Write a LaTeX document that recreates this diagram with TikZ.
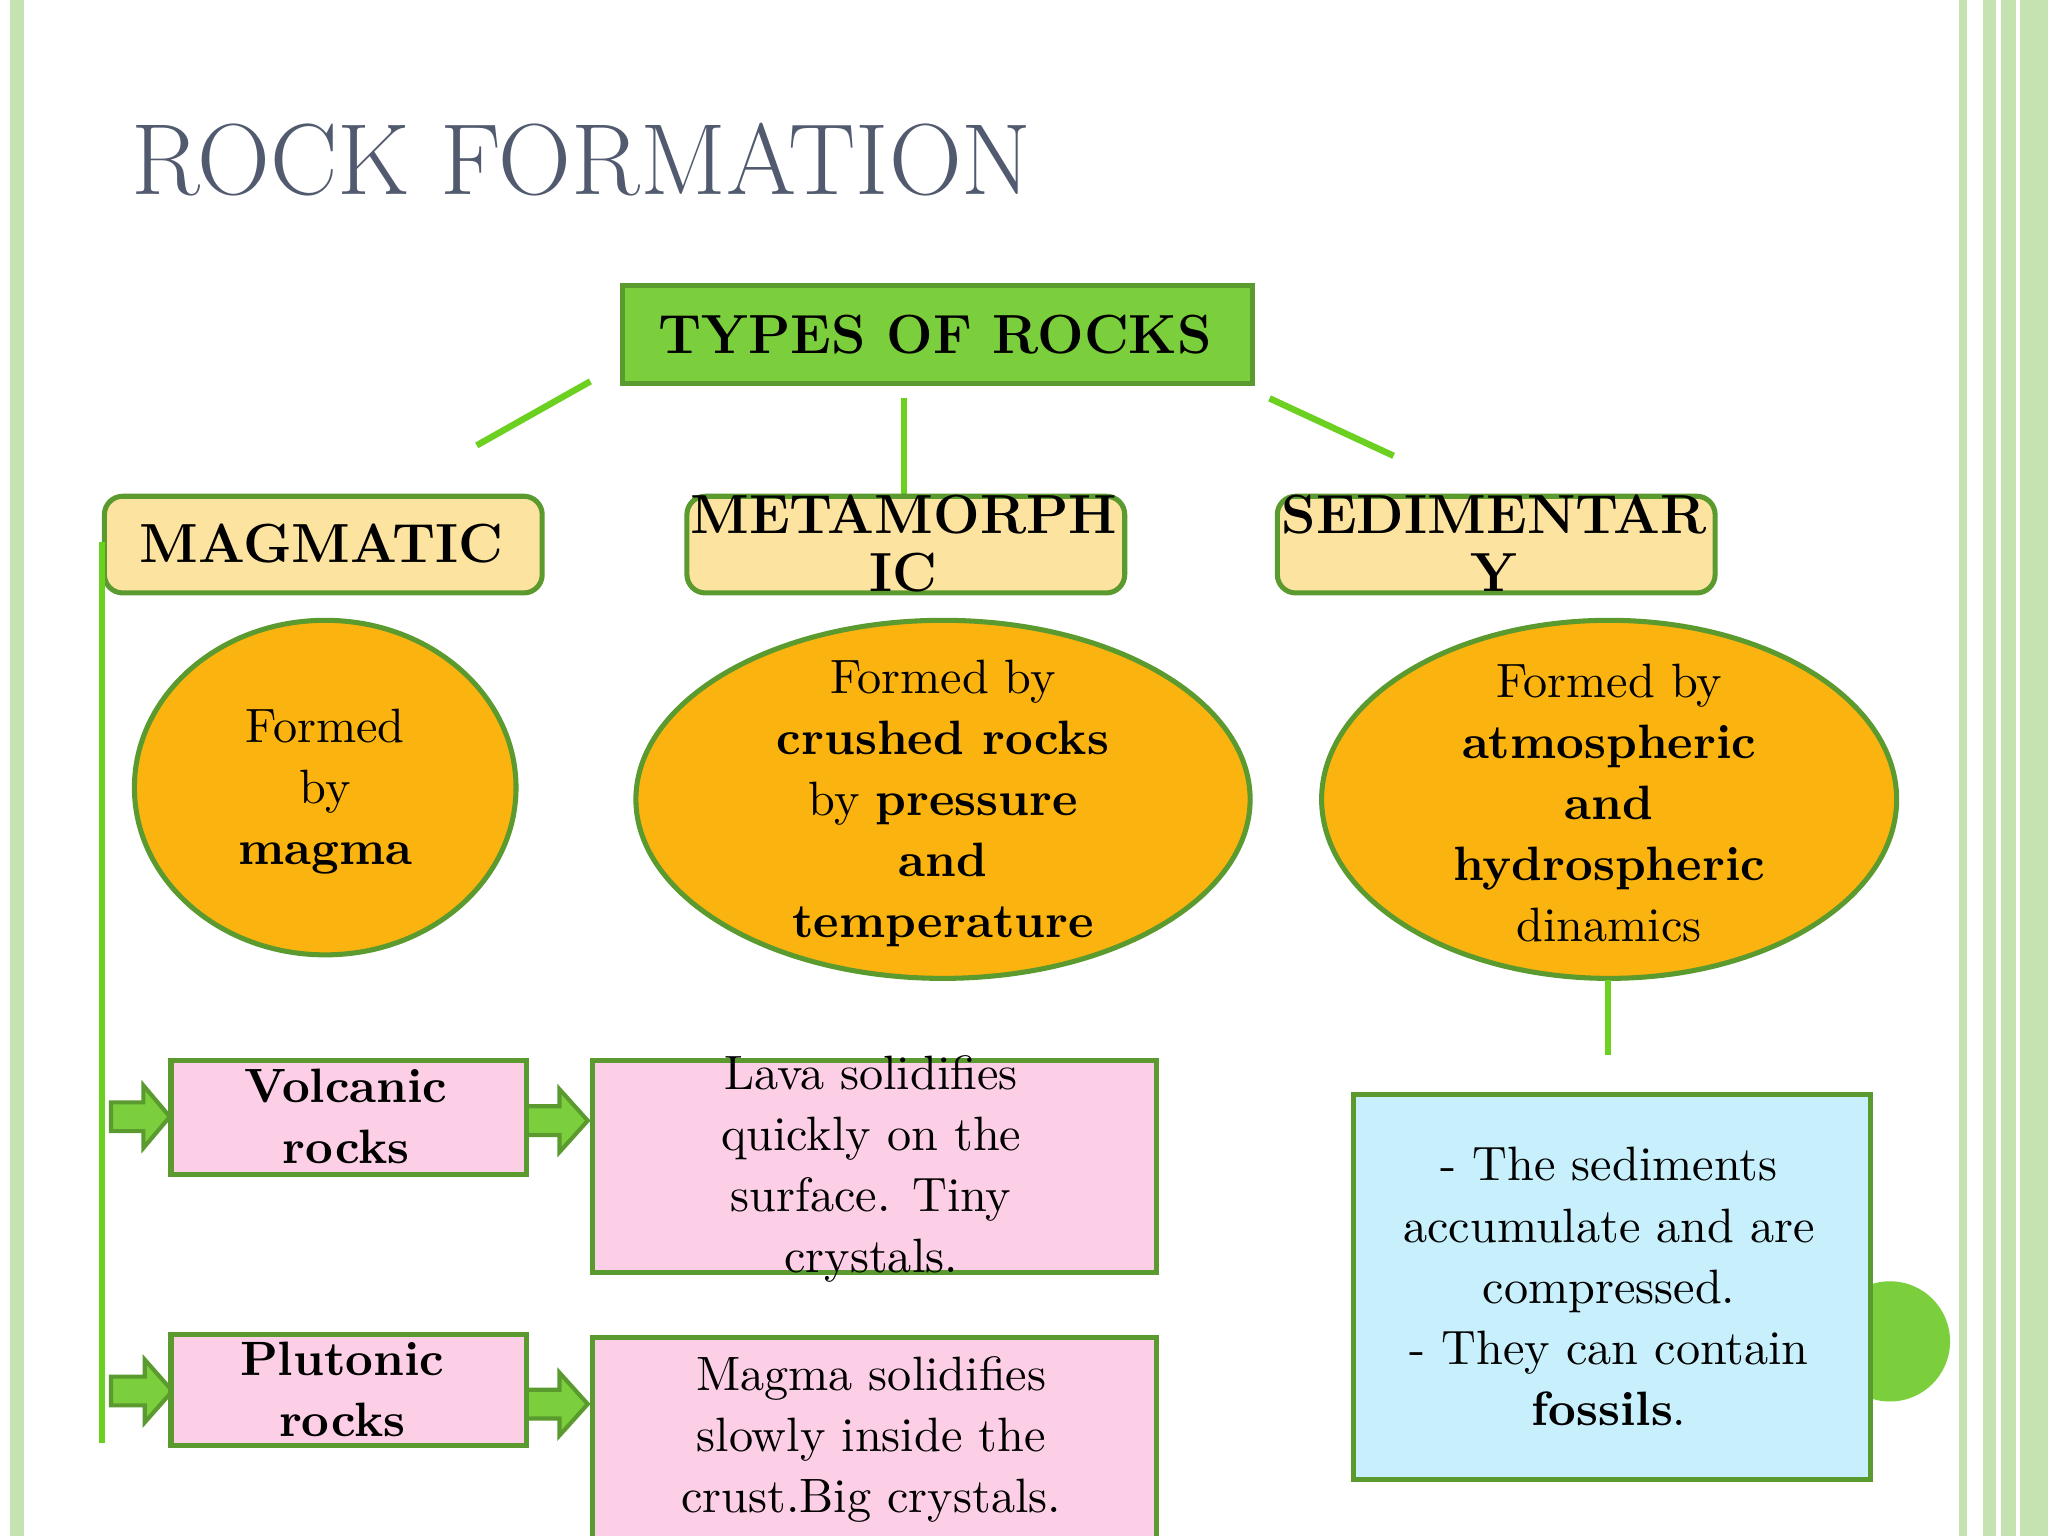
\documentclass[tikz,border=0pt]{standalone}
\usetikzlibrary{shapes.geometric}
\begin{document}
\definecolor{gborder}{HTML}{5A9A2E}
\definecolor{gfill}{HTML}{7CCF3C}
\definecolor{gline}{HTML}{6CD020}
\definecolor{tan}{HTML}{FDE3A0}
\definecolor{orng}{HTML}{FBB40F}
\definecolor{pink}{HTML}{FCCFE6}
\definecolor{cyanb}{HTML}{C7F0FC}
\definecolor{titlec}{HTML}{515A6E}
\definecolor{stripe}{HTML}{C5E3B0}
\begin{tikzpicture}[x=0.01cm,y=-0.01cm,
  body/.style={font=\fontsize{10.5}{13.3}\selectfont,align=center,text=black},
  bbody/.style={font=\fontsize{10.5}{13.3}\selectfont\bfseries,align=center,text=black},
  conn/.style={draw=gline,line width=1.4pt},
  box/.style={draw=gborder,line width=1.1pt,inner sep=0pt,anchor=north west},
  cat/.style={box,fill=tan,rounded corners=4pt},
  ell/.style={ellipse,draw=gborder,line width=1.1pt,fill=orng,inner sep=0pt},
  arr/.style={draw=gborder,line width=0.9pt,fill=gfill}]
\useasboundingbox (0,0) rectangle (1568,1176);
\fill[white] (0,0) rectangle (1568,1176);
\fill[stripe] (8,0) rectangle (18,1176);
\fill[stripe] (1500,0) rectangle (1506,1176);
\fill[stripe] (1518,0) rectangle (1568,1176);
\draw[white,line width=1pt] (1530,0) -- (1530,1176) (1545,0) -- (1545,1176);
\node[anchor=west,text=titlec,font=\fontsize{22}{26}\selectfont] (title) at (88,122) {ROCK FORMATION};
% green circle
\node[circle,fill=gfill,minimum size=0.92cm,inner sep=0pt] (dot) at (1447,1027) {};
% top
\node[box,fill=gfill,minimum width=4.82cm,minimum height=0.75cm] (top) at (475,217) {};
\node[font=\fontsize{12}{14}\selectfont\bfseries] (toptxt) at (716,256) {TYPES OF ROCKS};
\coordinate (c1a) at (452,292); \coordinate (c1b) at (365,341);
\coordinate (c2a) at (692,305); \coordinate (c2b) at (692,378);
\coordinate (c3a) at (972,305); \coordinate (c3b) at (1067,349);
\draw[conn] (c1a) -- (c1b); \draw[conn] (c2a) -- (c2b); \draw[conn] (c3a) -- (c3b);
% categories
\node[cat,minimum width=3.35cm,minimum height=0.74cm] (mag) at (78,378) {};
\node[cat,minimum width=3.35cm,minimum height=0.74cm] (met) at (524,378) {};
\node[cat,minimum width=3.35cm,minimum height=0.74cm] (sed) at (976,378) {};
\node[font=\fontsize{12}{12.5}\selectfont\bfseries,align=center] at (246,416) {MAGMATIC};
\node[font=\fontsize{12}{12.5}\selectfont\bfseries,align=center] at (692,416) {METAMORPH\\IC};
\node[font=\fontsize{12}{12.5}\selectfont\bfseries,align=center] at (1144,416) {SEDIMENTAR\\Y};
% ellipses
\node[ell,minimum width=2.92cm,minimum height=2.56cm] (e1) at (249,603) {};
\node[body] at (249,606) {Formed\\by\\\textbf{magma}};
\node[ell,minimum width=4.7cm,minimum height=2.74cm] (e2) at (722,612) {};
\node[body] at (722,615) {Formed by\\\textbf{crushed rocks}\\by \textbf{pressure}\\\textbf{and}\\\textbf{temperature}};
\node[ell,minimum width=4.4cm,minimum height=2.74cm] (e3) at (1232,612) {};
\node[body] at (1232,615) {Formed by\\\textbf{atmospheric}\\\textbf{and}\\\textbf{hydrospheric}\\dinamics};
% left line
\coordinate (lt) at (78,415); \coordinate (lb) at (78,1105);
\draw[conn] (lt) -- (lb);
% arrows
\foreach \x/\y/\w in {85/855/45,85/1065/47,402/858/48,402/1075/48}{
 \draw[arr] (\x,\y-11) -- (\x+\w*0.55,\y-11) -- (\x+\w*0.55,\y-24) -- (\x+\w,\y) -- (\x+\w*0.55,\y+24) -- (\x+\w*0.55,\y+11) -- (\x,\y+11) -- cycle;}
% pink
\node[box,fill=pink,minimum width=2.72cm,minimum height=0.87cm] (vol) at (129,810) {};
\node[bbody] at (265,855) {Volcanic\\rocks};
\node[box,fill=pink,minimum width=2.72cm,minimum height=0.85cm] (plu) at (129,1020) {};
\node[bbody] at (262,1064) {Plutonic\\rocks};
\node[box,fill=pink,minimum width=4.31cm,minimum height=1.62cm] (lava) at (452,810) {};
\node[body] at (667,895) {Lava solidifies\\quickly on the\\surface. Tiny\\crystals.};
\node[box,fill=pink,minimum width=4.31cm,minimum height=1.6cm] (mgm) at (452,1022) {};
\node[body] at (667,1102) {Magma solidifies\\slowly inside the\\crust.Big crystals.};
% cyan
\coordinate (st) at (1231,750); \coordinate (sb) at (1231,808);
\draw[conn] (st) -- (sb);
\node[box,fill=cyanb,minimum width=3.96cm,minimum height=2.95cm] (cy) at (1034,836) {};
\node[body] at (1232,985) {- The sediments\\accumulate and are\\compressed.\\- They can contain\\\textbf{fossils}.};
\end{tikzpicture}
\end{document}
